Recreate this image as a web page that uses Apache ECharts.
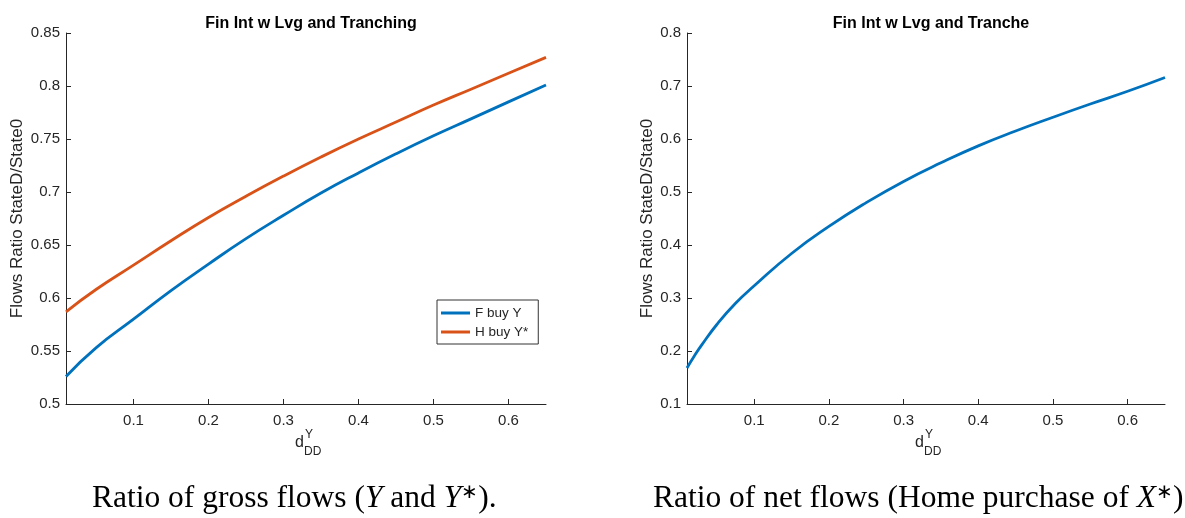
<!DOCTYPE html>
<html>
<head>
<meta charset="utf-8">
<script src="https://cdn.jsdelivr.net/npm/echarts@6/dist/echarts.min.js"></script>
<style>
html,body{margin:0;padding:0;background:#fff;}
#chart{width:1185px;height:518px;}
</style>
</head>
<body>
<div id="chart"></div>
<script>
// ---- data ----
const xLeft = [0.01, 0.05, 0.1, 0.15, 0.2, 0.25, 0.3, 0.35, 0.4, 0.45, 0.5, 0.55, 0.6, 0.65];
const fBuyY = [0.526, 0.553, 0.580, 0.607, 0.632, 0.656, 0.678, 0.699, 0.718, 0.736, 0.753, 0.769, 0.785, 0.801];
const hBuyYStar = [0.587, 0.608, 0.631, 0.654, 0.676, 0.696, 0.715, 0.733, 0.750, 0.766, 0.782, 0.797, 0.812, 0.827];

const xRight = [0.01, 0.02, 0.03, 0.05, 0.075, 0.1, 0.15, 0.2, 0.25, 0.3, 0.35, 0.4, 0.45, 0.5, 0.55, 0.6, 0.65];
const netFlows = [0.168, 0.191, 0.212, 0.250, 0.290, 0.323, 0.384, 0.435, 0.480, 0.520, 0.555, 0.587, 0.615, 0.641, 0.666, 0.690, 0.716];

const xTicks = [0.1, 0.2, 0.3, 0.4, 0.5, 0.6];
const yTicksLeft = [0.5, 0.55, 0.6, 0.65, 0.7, 0.75, 0.8, 0.85];
const yTicksRight = [0.1, 0.2, 0.3, 0.4, 0.5, 0.6, 0.7, 0.8];

const titles = ['Fin Int w Lvg and Tranching', 'Fin Int w Lvg and Tranche'];
const seriesNames = ['F buy Y', 'H buy Y*'];
const yName = 'Flows Ratio StateD/State0';

const BLUE = '#0072BD', ORANGE = '#D95319', AX = '#262626';
const FONT = '"Liberation Sans", Arial, Helvetica, sans-serif';
const SERIF = '"Liberation Serif", "Times New Roman", serif';

function zip(xs, ys){ return xs.map((x,i)=>[x, ys[i]]); }

function xAxisDef(gi){
  return {
    type:'value', gridIndex:gi, min:0.01, max:0.65,
    axisLine:{show:true, lineStyle:{color:AX, width:1}},
    axisTick:{show:true, inside:true, length:5, customValues:xTicks, lineStyle:{color:AX}},
    axisLabel:{customValues:xTicks, color:AX, fontFamily:FONT, fontSize:15, margin:9,
      formatter:v=>String(+v.toFixed(2))},
    splitLine:{show:false}
  };
}
function yAxisDef(gi, min, max, ticks, gap){
  return {
    type:'value', gridIndex:gi, min:min, max:max,
    name:yName, nameLocation:'middle', nameGap:gap, nameRotate:90,
    nameTextStyle:{color:AX, fontFamily:FONT, fontSize:17},
    axisLine:{show:true, lineStyle:{color:AX, width:1}},
    axisTick:{show:true, inside:true, length:5, customValues:ticks, lineStyle:{color:AX}},
    axisLabel:{customValues:ticks, color:AX, fontFamily:FONT, fontSize:15, margin:6,
      formatter:v=>String(+v.toFixed(2))},
    splitLine:{show:false}
  };
}

function xLabel(cx){
  return [
    {type:'text', left:cx-11, top:435, style:{text:'d', font:'16px '+FONT, fill:AX}},
    {type:'text', left:cx-1, top:429, style:{text:'Y', font:'12px '+FONT, fill:AX}},
    {type:'text', left:cx-2, top:446, style:{text:'DD', font:'12px '+FONT, fill:AX}}
  ];
}

const chart = echarts.init(document.getElementById('chart'), null, {renderer:'canvas'});
chart.setOption({
  backgroundColor:'#fff',
  animation:false,
  title:[
    {text:titles[0], left:306, top:11, textAlign:'center',
     textStyle:{fontFamily:FONT, fontSize:16, fontWeight:'bold', color:'#000'}},
    {text:titles[1], left:926, top:11, textAlign:'center',
     textStyle:{fontFamily:FONT, fontSize:16, fontWeight:'bold', color:'#000'}}
  ],
  grid:[
    {left:66, top:33, width:480, height:371},
    {left:687, top:33, width:478, height:371}
  ],
  xAxis:[xAxisDef(0), xAxisDef(1)],
  yAxis:[yAxisDef(0, 0.5, 0.85, yTicksLeft, 40), yAxisDef(1, 0.1, 0.8, yTicksRight, 30)],
  legend:{
    data:seriesNames, orient:'vertical', left:437, top:300,
    icon:'rect', itemWidth:29, itemHeight:3, itemGap:5,
    padding:[6,10,5,4],
    borderColor:'#333', borderWidth:1, backgroundColor:'#fff',
    textStyle:{fontFamily:FONT, fontSize:13.5, color:AX}
  },
  series:[
    {name:seriesNames[0], type:'line', xAxisIndex:0, yAxisIndex:0, data:zip(xLeft,fBuyY),
     smooth:true, showSymbol:false, lineStyle:{color:BLUE, width:2.8}, itemStyle:{color:BLUE}},
    {name:seriesNames[1], type:'line', xAxisIndex:0, yAxisIndex:0, data:zip(xLeft,hBuyYStar),
     smooth:true, showSymbol:false, lineStyle:{color:ORANGE, width:2.8}, itemStyle:{color:ORANGE}},
    {name:'net', type:'line', xAxisIndex:1, yAxisIndex:1, data:zip(xRight,netFlows),
     smooth:true, showSymbol:false, lineStyle:{color:BLUE, width:2.8}, itemStyle:{color:BLUE}}
  ],
  graphic:[].concat(xLabel(306), xLabel(926), [
    {type:'text', left:92, top:483, style:{
      text:'{n|Ratio of gross flows (}{i|Y}{n| and }{i|Y}{s|∗}{n|).}',
      rich:{n:{font:'31.5px '+SERIF, fill:'#000'}, i:{font:'italic 31.5px '+SERIF, fill:'#000'},
            s:{font:'20px '+SERIF, fill:'#000', verticalAlign:'top', padding:[0,0,12,0]}}}},
    {type:'text', left:653, top:483, style:{
      text:'{n|Ratio of net flows (Home purchase of }{i|X}{s|∗}{n|)}',
      rich:{n:{font:'31.5px '+SERIF, fill:'#000'}, i:{font:'italic 31.5px '+SERIF, fill:'#000'},
            s:{font:'20px '+SERIF, fill:'#000', verticalAlign:'top', padding:[0,0,12,0]}}}}
  ])
});
</script>
</body>
</html>
